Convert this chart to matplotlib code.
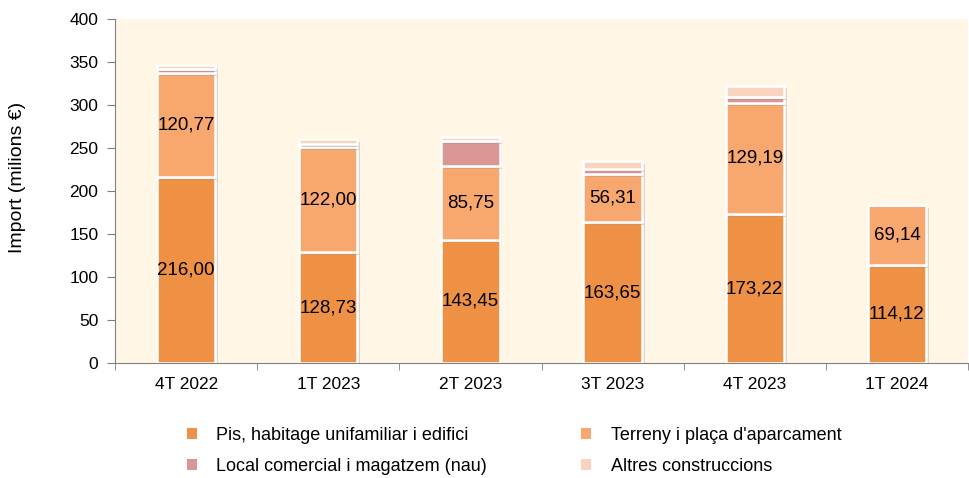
import numpy as np
import matplotlib
matplotlib.use("Agg")
import matplotlib.pyplot as plt
import matplotlib.patheffects as pe
from matplotlib.patches import Patch

plt.rcParams['font.family'] = ['Liberation Sans', 'DejaVu Sans']

# Data (milions d'euros)
quarters = ["4T 2022", "1T 2023", "2T 2023", "3T 2023", "4T 2023", "1T 2024"]
pis = [216.00, 128.73, 143.45, 163.65, 173.22, 114.12]
terreny = [120.77, 122.00, 85.75, 56.31, 129.19, 69.14]
local = [5.0, 3.5, 29.0, 5.5, 7.0, 0.0]
altres = [4.5, 6.5, 5.0, 9.0, 13.0, 0.0]

series_names = ["Pis, habitage unifamiliar i edifici", "Terreny i plaça d'aparcament",
                "Local comercial i magatzem (nau)", "Altres construccions"]
colors = ["#EE9144", "#F8A86E", "#D99694", "#FAD3BF"]
bg = "#FFF6E6"

fig = plt.figure(figsize=(9.7, 4.78), dpi=100)
ax = fig.add_axes([0.1186, 0.2406, 0.8794, 0.7197])
ax.set_facecolor(bg)

x = np.arange(len(quarters))
width = 0.41
shadow = [pe.SimplePatchShadow(offset=(2, -2), shadow_rgbFace="#999999", alpha=0.35), pe.Normal()]

bottom = np.zeros(len(quarters))
for vals, col in zip([pis, terreny, local, altres], colors):
    vals = np.array(vals)
    bars = ax.bar(x, vals, width, bottom=bottom, color=col, edgecolor="white",
                  linewidth=1.8, zorder=3)
    for b in bars:
        b.set_path_effects(shadow)
    bottom += vals

# value labels for the two main series
for i in range(len(quarters)):
    ax.text(x[i], pis[i] / 2, f"{pis[i]:.2f}".replace(".", ","), ha="center", va="center",
            fontsize=13.5, color="black", zorder=5)
    ax.text(x[i], pis[i] + terreny[i] / 2, f"{terreny[i]:.2f}".replace(".", ","),
            ha="center", va="center", fontsize=13.5, color="black", zorder=5)

ax.set_xlim(-0.5, len(quarters) - 0.5)
ax.set_ylim(0, 400)
ax.set_yticks(np.arange(0, 401, 50))
ax.set_xticks(x)
ax.set_xticklabels(quarters)
ax.set_xticks(np.arange(-0.5, len(quarters)), minor=True)
ax.tick_params(axis="x", which="major", length=0, pad=10, labelsize=12.5)
ax.tick_params(axis="x", which="minor", length=5, color="#808080", direction="out")
ax.tick_params(axis="y", length=6, color="#808080", labelsize=12.5, pad=6)
for s in ["top", "right"]:
    ax.spines[s].set_visible(False)
for s in ["left", "bottom"]:
    ax.spines[s].set_color("#808080")
fig.text(18 / 970, 1 - 177 / 478, "Import (milions €)", rotation=90, fontsize=14,
         ha="center", va="center")

# legend filled row by row: Pis, Terreny / Local, Altres
order = [0, 2, 1, 3]
handles = [Patch(facecolor=colors[k], edgecolor="none") for k in order]
labels = [series_names[k] for k in order]
fig.legend(handles, labels, loc="center", bbox_to_anchor=(0.53, 0.057), ncol=2,
           frameon=False, fontsize=13, handlelength=0.55, handleheight=0.55,
           columnspacing=5.2, labelspacing=0.75, handletextpad=1.1)

fig.savefig("out.png", dpi=100)
